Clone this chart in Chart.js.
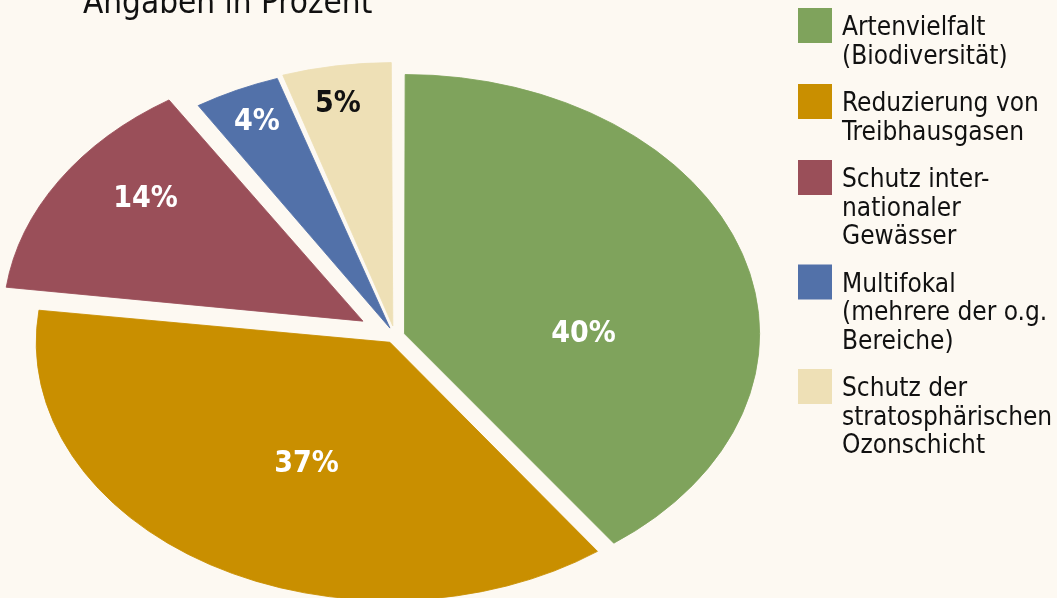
<!DOCTYPE html>
<html lang="de">
<head>
<meta charset="utf-8">
<title>Angaben in Prozent</title>
<script src="https://cdn.jsdelivr.net/npm/chart.js@4.4.1/dist/chart.umd.min.js"></script>
<style>
    html, body { margin: 0; padding: 0; background: #fdf9f2; }
    #wrap { position: relative; width: 1057px; height: 598px; overflow: hidden; }
</style>
</head>
<body>
<div id="wrap"><canvas id="pieChart" width="1057" height="598"></canvas></div>
<script>
// Data
const chartTitle = 'Angaben in Prozent';
const categories = [
    ['Artenvielfalt', '(Biodiversität)'],
    ['Reduzierung von', 'Treibhausgasen'],
    ['Schutz inter-', 'nationaler', 'Gewässer'],
    ['Multifokal', '(mehrere der o.g.', 'Bereiche)'],
    ['Schutz der', 'stratosphärischen', 'Ozonschicht']
];
const shares = [40, 37, 14, 4, 5];
const shareLabels = ['40%', '37%', '14%', '4%', '5%'];

// Styling
const sliceColors = ['#7fa35c', '#c98f00', '#9a4f59', '#5271a9', '#eee0b6'];
const labelColors = ['#ffffff', '#ffffff', '#ffffff', '#ffffff', '#111111'];
const sliceOffsets = [40, 40, 152, 48, 56];      // Chart.js moves an arc by offset/4
const labelSpots = [[0.625, 0.51], [0.47, 0.53], [0.6, 0.78], [0.5, 0.89], [0.43, 0.88]];
const SQUASH = 0.73;                             // vertical / horizontal radius
const FONT = '"DejaVu Sans Condensed", "DejaVu Sans", sans-serif';

// squash the pie into an ellipse, then put the labels on top
const ellipsePlugin = {
    id: 'ellipse',
    beforeDatasetsDraw(chart) {
        const { ctx, chartArea } = chart;
        const cy = (chartArea.top + chartArea.bottom) / 2;
        ctx.save();
        ctx.translate(0, cy);
        ctx.scale(1, SQUASH);
        ctx.translate(0, -cy);
    },
    afterDatasetsDraw(chart) {
        const { ctx } = chart;
        ctx.restore();

        const arcs = chart.getDatasetMeta(0).data;
        const cy = (chart.chartArea.top + chart.chartArea.bottom) / 2;
        ctx.save();
        ctx.font = 'bold 30px ' + FONT;
        ctx.textAlign = 'center';
        ctx.textBaseline = 'middle';
        arcs.forEach((arc, i) => {
            const { x, y, startAngle, endAngle, outerRadius } =
                arc.getProps(['x', 'y', 'startAngle', 'endAngle', 'outerRadius'], true);
            const shift = (arc.options.offset || 0) / 4;
            const mid = (startAngle + endAngle) / 2;
            const a = startAngle + (endAngle - startAngle) * labelSpots[i][0];
            const r = outerRadius * labelSpots[i][1];
            const px = x + Math.cos(mid) * shift + Math.cos(a) * r;
            const py = cy + (y - cy + Math.sin(mid) * shift + Math.sin(a) * r) * SQUASH;
            ctx.fillStyle = labelColors[i];
            ctx.fillText(shareLabels[i], px, py);
        });
        ctx.restore();
    },
    afterDraw(chart) {
        const { ctx } = chart;
        ctx.save();
        ctx.fillStyle = '#111111';
        ctx.textAlign = 'left';
        ctx.textBaseline = 'alphabetic';

        // title, cut by the top edge as in the original
        ctx.font = '33px ' + FONT;
        ctx.fillText(chartTitle, 83, 13);

        // legend with multi-line entries
        ctx.font = '26px ' + FONT;
        const lineH = 28.5;
        let baseline = 35;
        categories.forEach((lines, i) => {
            ctx.fillStyle = sliceColors[i];
            ctx.fillRect(798, baseline - 27, 34, 35);
            ctx.fillStyle = '#111111';
            lines.forEach((line, j) => {
                ctx.fillText(line, 842, baseline + j * lineH);
            });
            baseline += lines.length * lineH + 19;
        });
        ctx.restore();
    }
};

const ctx = document.getElementById('pieChart').getContext('2d');
const pieChart = new Chart(ctx, {
    type: 'pie',
    data: {
        labels: categories.map(l => l.join(' ')),
        datasets: [{
            data: shares,
            backgroundColor: sliceColors,
            borderColor: sliceColors,
            borderWidth: 1,
            offset: sliceOffsets,
            clip: false
        }]
    },
    options: {
        responsive: false,
        animation: false,
        events: [],
        radius: 351,
        layout: {
            padding: { left: 0, right: 267, top: 74, bottom: 0 }
        },
        plugins: {
            legend: { display: false },
            tooltip: { enabled: false },
            title: { display: false }
        }
    },
    plugins: [ellipsePlugin]
});
</script>
</body>
</html>
